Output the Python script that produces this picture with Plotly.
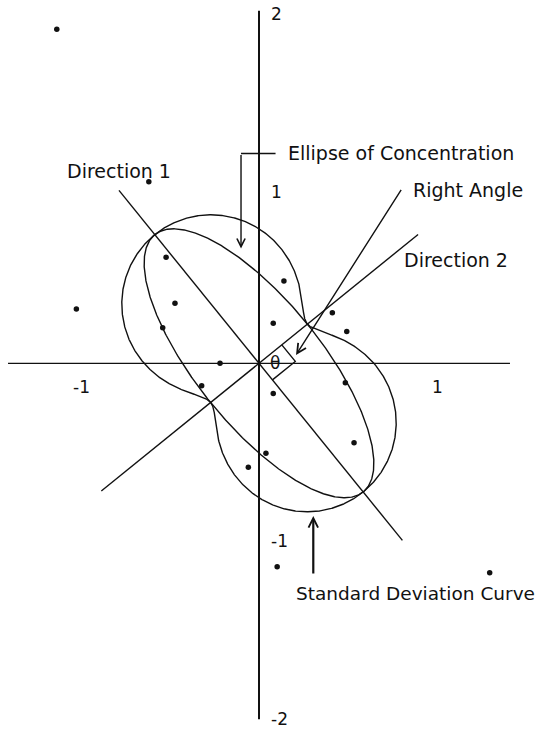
import numpy as np
import plotly.graph_objects as go

# ---- observations -------------------------------------------------------
obs_x = [-1.136, -0.619, -0.522, 0.140, -1.026, -0.472, 0.412, 0.080, -0.541, 0.493,
         -0.219, -0.322, 0.485, 0.080, 0.534, 0.039, -0.060, 0.102, 1.296]
obs_y = [1.876, 1.020, 0.596, 0.462, 0.305, 0.337, 0.284, 0.225, 0.200, 0.178,
         0.000, -0.126, -0.109, -0.169, -0.446, -0.506, -0.584, -1.143, -1.176]

# ---- principal directions and spreads -----------------------------------
major_angle_deg = 129.0      # Direction 1 (angle from the positive x axis)
sd_major = 0.93              # standard deviation along Direction 1
sd_minor = 0.35              # standard deviation along Direction 2

# ---- axes ----------------------------------------------------------------
x_tick_vals = [-1, 1]
x_tick_text = ["-1", "1"]
y_tick_vals = [2, 1, -1, -2]
y_tick_text = ["2", "1", "-1", "-2"]

X_EXTENT = 1.41
Y_EXTENT = 2.0
INK = "#111111"
FONT = "DejaVu Sans"

phi = np.deg2rad(major_angle_deg)
u1 = np.array([np.cos(phi), np.sin(phi)])             # Direction 1
u2 = np.array([np.cos(phi - np.pi / 2), np.sin(phi - np.pi / 2)])  # Direction 2

fig = go.Figure()

# ellipse of concentration
t = np.linspace(0, 2 * np.pi, 721)
ell = np.outer(sd_major * np.cos(t), u1) + np.outer(sd_minor * np.sin(t), u2)
fig.add_trace(go.Scatter(x=ell[:, 0], y=ell[:, 1], mode="lines",
                         line=dict(color=INK, width=1.4), hoverinfo="skip"))

# standard deviation curve: r(theta) = sqrt(s1^2 cos^2 + s2^2 sin^2)
th = np.linspace(0, 2 * np.pi, 1441)
r = np.sqrt((sd_major * np.cos(th - phi)) ** 2 + (sd_minor * np.sin(th - phi)) ** 2)
fig.add_trace(go.Scatter(x=r * np.cos(th), y=r * np.sin(th), mode="lines",
                         line=dict(color=INK, width=1.4), hoverinfo="skip"))

# direction lines through the origin
d1 = np.array([1.25 * u1, -1.28 * u1])
d2 = np.array([-1.14 * u2, 1.15 * u2])
for seg in (d1, d2):
    fig.add_trace(go.Scatter(x=seg[:, 0], y=seg[:, 1], mode="lines",
                             line=dict(color=INK, width=1.4), hoverinfo="skip"))

# right-angle box at the origin
a_pt = 0.165 * u2
c_pt = 0.12 * u1 * -1
b_pt = a_pt + c_pt
box = np.array([a_pt, b_pt, c_pt])
fig.add_trace(go.Scatter(x=box[:, 0], y=box[:, 1], mode="lines",
                         line=dict(color=INK, width=1.4), hoverinfo="skip"))

# data points
fig.add_trace(go.Scatter(x=obs_x, y=obs_y, mode="markers",
                         marker=dict(color=INK, size=5.5), hoverinfo="skip"))

# coordinate axes
fig.add_shape(type="line", x0=0, x1=0, y0=-Y_EXTENT, y1=Y_EXTENT * 0.99,
              line=dict(color=INK, width=2))
fig.add_shape(type="line", x0=-X_EXTENT, x1=X_EXTENT, y0=0, y1=0,
              line=dict(color=INK, width=1.3))

annotations = []
for v, s in zip(x_tick_vals, x_tick_text):
    annotations.append(dict(x=v, y=-0.135, text=s, showarrow=False,
                            xanchor="center", yanchor="middle",
                            font=dict(family=FONT, size=17, color=INK)))
for v, s in zip(y_tick_vals, y_tick_text):
    annotations.append(dict(x=0.055, y=v, text=s, showarrow=False,
                            xanchor="left", yanchor="middle",
                            yshift=-7 if v > 0 else 0,
                            font=dict(family=FONT, size=17, color=INK)))

labels = [
    ("Ellipse of Concentration", 0.150, 1.180, 19),
    ("Direction 1", -1.090, 1.080, 19),
    ("Right Angle", 0.852, 0.974, 19),
    ("Direction 2", 0.805, 0.580, 19),
    ("Standard Deviation Curve", 0.198, -1.292, 18.5),
]
for s, x, y, fs in labels:
    annotations.append(dict(x=x, y=y, text=s, showarrow=False,
                            xanchor="left", yanchor="middle",
                            font=dict(family=FONT, size=fs, color=INK)))

annotations.append(dict(x=0.09, y=0.0, text="θ", showarrow=False,
                        xanchor="center", yanchor="middle",
                        font=dict(family=FONT, size=17, color=INK)))

# pointer arrows
fig.add_shape(type="line", x0=0.093, x1=-0.101, y0=1.179, y1=1.179,
              line=dict(color=INK, width=1.4))
arrow_common = dict(text="", showarrow=True, axref="x", ayref="y",
                    arrowcolor=INK, standoff=0, startstandoff=0)
annotations.append(dict(x=-0.101, y=0.645, ax=-0.101, ay=1.179,
                        arrowhead=5, arrowwidth=1.4, arrowsize=1.15, **arrow_common))
annotations.append(dict(x=0.208, y=0.047, ax=0.804, ay=0.983,
                        arrowhead=5, arrowwidth=1.4, arrowsize=1.3, **arrow_common))
annotations.append(dict(x=0.305, y=-0.858, ax=0.305, ay=-1.189,
                        arrowhead=5, arrowwidth=2.2, arrowsize=0.85, **arrow_common))

fig.update_layout(
    width=540, height=729,
    margin=dict(l=0, r=0, t=0, b=0),
    paper_bgcolor="white", plot_bgcolor="white",
    showlegend=False,
    xaxis=dict(range=[-259 / 178, 281 / 178], visible=False, fixedrange=True),
    yaxis=dict(range=[-365.7 / 178, 363.3 / 178], visible=False, fixedrange=True),
    annotations=annotations,
)

fig.write_html("out.html")
